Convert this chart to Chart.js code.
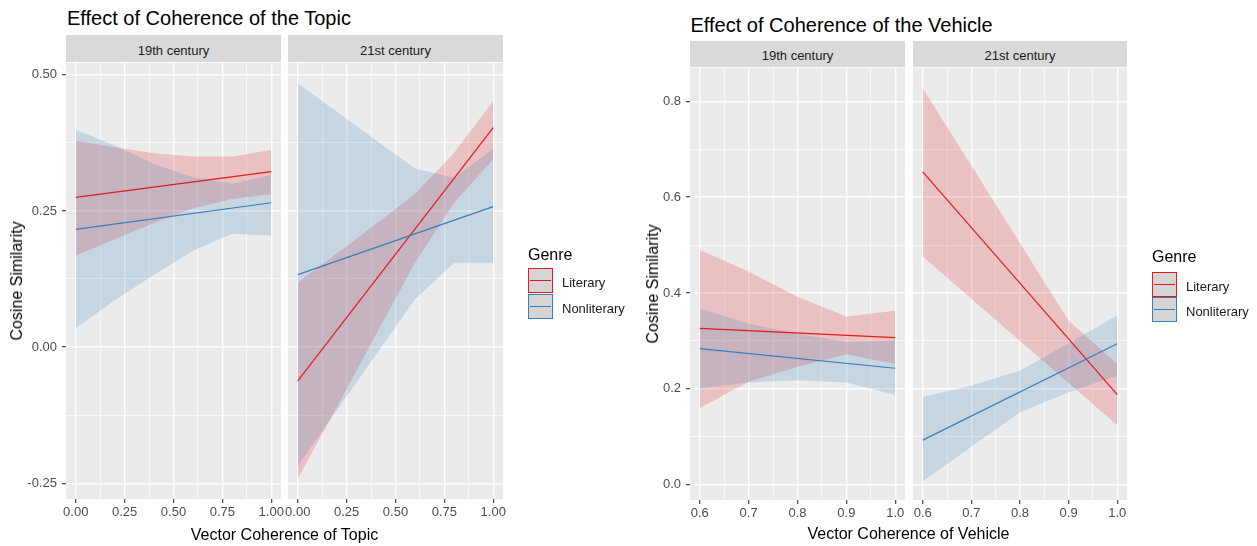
<!DOCTYPE html>
<html>
<head>
<meta charset="utf-8">
<title>Effect of Coherence</title>
<script src="https://cdn.jsdelivr.net/npm/chart.js@4.4.1/dist/chart.umd.min.js"></script>
<style>
  html, body { margin: 0; padding: 0; background: #ffffff; }
  body { position: relative; width: 1257px; height: 546px; overflow: hidden;
         font-family: "Liberation Sans", Arial, Helvetica, sans-serif; }
  .txt { position: absolute; white-space: nowrap; color: #000; }
  .strip { position: absolute; background: #d9d9d9; color: #1a1a1a; font-size: 13px; line-height: 13px;
           display: flex; align-items: center; justify-content: center; box-sizing: border-box; padding-top: 3px; }
  .key { position: absolute; box-sizing: border-box; width: 25px; height: 25px; background: #d5d5d5; border: 1.5px solid; }
  .key span { position: absolute; left: 1px; right: 1px; top: 50%; height: 1.4px; margin-top: -0.7px; }
  canvas { position: absolute; }
</style>
</head>
<body>
<script>
// ---------- data ----------
const genres = ['Literary', 'Nonliterary'];
const centuries = ['19th century', '21st century'];
const genreColors = ['#E41A1C', '#377EB8'];

// Vector coherence of topic: fitted lines at the ends of the range, bands at each level
const topicLevels = [0, 0.2, 0.4, 0.6, 0.8, 1.0];
const topicFitRange = [0, 1];

const topic19LitFit   = [0.275, 0.322];
const topic19LitUpper = [0.379, 0.367, 0.356, 0.350, 0.350, 0.362];
const topic19LitLower = [0.168, 0.198, 0.228, 0.255, 0.272, 0.281];
const topic19NonFit   = [0.216, 0.265];
const topic19NonUpper = [0.399, 0.370, 0.336, 0.312, 0.300, 0.316];
const topic19NonLower = [0.035, 0.086, 0.133, 0.177, 0.208, 0.205];

const topic21LitFit   = [-0.062, 0.403];
const topic21LitUpper = [0.119, 0.172, 0.226, 0.281, 0.357, 0.452];
const topic21LitLower = [-0.242, -0.110, 0.023, 0.155, 0.265, 0.345];
const topic21NonFit   = [0.133, 0.258];
const topic21NonUpper = [0.484, 0.432, 0.380, 0.328, 0.311, 0.364];
const topic21NonLower = [-0.218, -0.116, -0.014, 0.088, 0.155, 0.155];

const topicXTicks  = [0, 0.25, 0.5, 0.75, 1];
const topicXLabels = ['0.00', '0.25', '0.50', '0.75', '1.00'];
const topicXMinor  = [0.125, 0.375, 0.625, 0.875];
const topicYTicks  = [-0.25, 0, 0.25, 0.5];
const topicYLabels = ['-0.25', '0.00', '0.25', '0.50'];
const topicYMinor  = [-0.125, 0.125, 0.375];

// Vector coherence of vehicle
const vehicleLevels = [0.6, 0.7, 0.8, 0.9, 1.0];
const vehicleFitRange = [0.6, 1.0];

const vehicle19LitFit   = [0.326, 0.307];
const vehicle19LitUpper = [0.490, 0.445, 0.392, 0.351, 0.363];
const vehicle19LitLower = [0.160, 0.215, 0.246, 0.272, 0.252];
const vehicle19NonFit   = [0.284, 0.243];
const vehicle19NonUpper = [0.368, 0.336, 0.315, 0.298, 0.301];
const vehicle19NonLower = [0.201, 0.213, 0.218, 0.213, 0.187];

const vehicle21LitFit   = [0.653, 0.188];
const vehicle21LitUpper = [0.827, 0.666, 0.504, 0.342, 0.252];
const vehicle21LitLower = [0.476, 0.388, 0.300, 0.212, 0.124];
const vehicle21NonFit   = [0.093, 0.294];
const vehicle21NonUpper = [0.183, 0.207, 0.238, 0.295, 0.353];
const vehicle21NonLower = [0.007, 0.079, 0.151, 0.193, 0.228];

const vehicleXTicks  = [0.6, 0.7, 0.8, 0.9, 1.0];
const vehicleXLabels = ['0.6', '0.7', '0.8', '0.9', '1.0'];
const vehicleXMinor  = [0.65, 0.75, 0.85, 0.95];
const vehicleYTicks  = [0, 0.2, 0.4, 0.6, 0.8];
const vehicleYLabels = ['0.0', '0.2', '0.4', '0.6', '0.8'];
const vehicleYMinor  = [0.1, 0.3, 0.5, 0.7];

// ---------- drawing ----------
Chart.defaults.font.family = '"Liberation Sans", Arial, sans-serif';
const PAD_L = 60, PAD_R = 26, PAD_T = 12, AX_H = 36;

function rgba(hex, a) {
  const n = parseInt(hex.slice(1), 16);
  return `rgba(${(n >> 16) & 255},${(n >> 8) & 255},${n & 255},${a})`;
}
function pts(xs, ys) { return xs.map((x, i) => ({ x: x, y: ys[i] })); }
function isIn(list, v) { return list.some(m => Math.abs(m - v) < 1e-9); }

function fitLine(xs, ys, color) {
  return { data: pts(xs, ys), borderColor: color, borderWidth: 1.2, pointRadius: 0,
           fill: false, tension: 0 };
}
function bandEdge(xs, ys, fillTo, color) {
  return { data: pts(xs, ys), borderColor: 'rgba(0,0,0,0)', borderWidth: 0, pointRadius: 0, tension: 0,
           fill: fillTo === null ? false : { target: fillTo, above: color, below: color },
           backgroundColor: color };
}

function axisOptions(o) {
  const all = o.major.concat(o.minor).sort((a, b) => a - b);
  return {
    type: 'linear',
    position: o.horizontal ? 'bottom' : 'left',
    min: o.min, max: o.max,
    afterBuildTicks: s => { s.ticks = all.map(v => ({ value: v })); },
    afterFit: s => { if (o.horizontal) s.height = AX_H; else s.width = PAD_L; },
    border: { display: false },
    grid: {
      color: '#ffffff',
      lineWidth: c => (c.tick && isIn(o.major, c.tick.value)) ? 1.4 : 0.7,
      drawTicks: true,
      tickLength: 4,
      tickWidth: 1.1,
      tickColor: c => (o.showTicks && c.tick && isIn(o.major, c.tick.value)) ? '#333333' : 'rgba(0,0,0,0)'
    },
    ticks: {
      autoSkip: false, maxRotation: 0, minRotation: 0,
      padding: o.horizontal ? 2 : 5,
      color: '#4d4d4d',
      font: { size: 13 },
      callback: v => {
        if (!o.showLabels) return '';
        const i = o.major.findIndex(m => Math.abs(m - v) < 1e-9);
        return i >= 0 ? o.labels[i] : '';
      }
    }
  };
}

const panelBackground = {
  id: 'panelBackground',
  beforeDraw(chart) {
    const a = chart.chartArea, ctx = chart.ctx;
    ctx.save();
    ctx.fillStyle = '#ebebeb';
    ctx.fillRect(a.left, a.top, a.right - a.left, a.bottom - a.top);
    ctx.restore();
  }
};

function panel(p) {
  const w = p.right - p.left, h = p.bottom - p.top;
  const W = w + PAD_L + PAD_R, H = h + PAD_T + AX_H;
  const canvas = document.createElement('canvas');
  canvas.width = W; canvas.height = H;
  canvas.style.left = (p.left - PAD_L) + 'px';
  canvas.style.top = (p.top - PAD_T) + 'px';
  canvas.style.width = W + 'px';
  canvas.style.height = H + 'px';
  document.body.appendChild(canvas);

  const litBand = rgba(genreColors[0], 0.2), nonBand = rgba(genreColors[1], 0.2);
  // earlier datasets are painted last: fitted lines on top, Literary band at the bottom
  const datasets = [
    fitLine(p.fitX, p.non.fit, genreColors[1]),
    fitLine(p.fitX, p.lit.fit, genreColors[0]),
    bandEdge(p.levels, p.non.upper, 3, nonBand),
    bandEdge(p.levels, p.non.lower, null, nonBand),
    bandEdge(p.levels, p.lit.upper, 5, litBand),
    bandEdge(p.levels, p.lit.lower, null, litBand)
  ];

  new Chart(canvas, {
    type: 'line',
    data: { datasets: datasets },
    plugins: [panelBackground],
    options: {
      responsive: false,
      animation: false,
      devicePixelRatio: 1,
      layout: { padding: { left: 0, right: PAD_R, top: PAD_T, bottom: 0 } },
      plugins: { legend: { display: false }, tooltip: { enabled: false } },
      events: [],
      scales: {
        x: axisOptions({ horizontal: true, min: p.xMin, max: p.xMax, major: p.xTicks, labels: p.xLabels,
                         minor: p.xMinor, showLabels: true, showTicks: true }),
        y: axisOptions({ horizontal: false, min: p.yMin, max: p.yMax, major: p.yTicks, labels: p.yLabels,
                         minor: p.yMinor, showLabels: p.first, showTicks: p.first })
      }
    }
  });

  const strip = document.createElement('div');
  strip.className = 'strip';
  strip.style.left = p.left + 'px';
  strip.style.top = p.stripTop + 'px';
  strip.style.width = w + 'px';
  strip.style.height = (p.top - p.stripTop) + 'px';
  strip.textContent = p.century;
  document.body.appendChild(strip);
}

function text(str, o) {
  const d = document.createElement('div');
  d.className = 'txt';
  d.textContent = str;
  d.style.fontSize = o.size + 'px';
  d.style.lineHeight = o.size + 'px';
  d.style.left = o.left + 'px';
  d.style.top = o.top + 'px';
  if (o.color) d.style.color = o.color;
  if (o.transform) d.style.transform = o.transform;
  document.body.appendChild(d);
  return d;
}

function legend(x, titleTop, keyTops) {
  text('Genre', { size: 16, left: x, top: titleTop });
  genres.forEach((g, i) => {
    const k = document.createElement('div');
    k.className = 'key';
    k.style.left = x + 'px';
    k.style.top = keyTops[i] + 'px';
    k.style.borderColor = genreColors[i];
    const s = document.createElement('span');
    s.style.background = genreColors[i];
    k.appendChild(s);
    document.body.appendChild(k);
    text(g, { size: 13, left: x + 34, top: keyTops[i] + 12.5 - 6.5 + 1.5, color: '#1a1a1a' });
  });
}

function figure(f) {
  text(f.title, { size: 20, left: f.titleLeft, top: f.titleTop });
  [0, 1].forEach(i => panel(Object.assign({}, f.common, f.panels[i], { century: centuries[i], first: i === 0 })));
  const pl = f.panels[0].left, pr = f.panels[1].right;
  const cy = (f.common.top + f.common.bottom) / 2;
  text(f.xTitle, { size: 16, left: (pl + pr) / 2, top: f.xTitleTop, transform: 'translateX(-50%)' });
  text('Cosine Similarity', { size: 16, left: f.yTitleX, top: cy, transform: 'translate(-50%,-50%) rotate(-90deg)' });
  legend(f.legendX, f.legendTitleTop, f.keyTops);
}

figure({
  title: 'Effect of Coherence of the Topic', titleLeft: 67, titleTop: 8,
  xTitle: 'Vector Coherence of Topic', xTitleTop: 526.5, yTitleX: 17,
  legendX: 528, legendTitleTop: 246.5, keyTops: [268, 294],
  common: { top: 62, bottom: 499, stripTop: 35, levels: topicLevels, fitX: topicFitRange,
            xMin: -0.05, xMax: 1.05, yMin: -0.279, yMax: 0.522,
            xTicks: topicXTicks, xLabels: topicXLabels, xMinor: topicXMinor,
            yTicks: topicYTicks, yLabels: topicYLabels, yMinor: topicYMinor },
  panels: [
    { left: 66, right: 281,
      lit: { fit: topic19LitFit, upper: topic19LitUpper, lower: topic19LitLower },
      non: { fit: topic19NonFit, upper: topic19NonUpper, lower: topic19NonLower } },
    { left: 288, right: 503,
      lit: { fit: topic21LitFit, upper: topic21LitUpper, lower: topic21LitLower },
      non: { fit: topic21NonFit, upper: topic21NonUpper, lower: topic21NonLower } }
  ]
});

figure({
  title: 'Effect of Coherence of the Vehicle', titleLeft: 690.5, titleTop: 15,
  xTitle: 'Vector Coherence of Vehicle', xTitleTop: 526, yTitleX: 653,
  legendX: 1152, legendTitleTop: 249, keyTops: [272, 297],
  common: { top: 67, bottom: 500, stripTop: 41, levels: vehicleLevels, fitX: vehicleFitRange,
            xMin: 0.58, xMax: 1.02, yMin: -0.032, yMax: 0.870,
            xTicks: vehicleXTicks, xLabels: vehicleXLabels, xMinor: vehicleXMinor,
            yTicks: vehicleYTicks, yLabels: vehicleYLabels, yMinor: vehicleYMinor },
  panels: [
    { left: 690, right: 905,
      lit: { fit: vehicle19LitFit, upper: vehicle19LitUpper, lower: vehicle19LitLower },
      non: { fit: vehicle19NonFit, upper: vehicle19NonUpper, lower: vehicle19NonLower } },
    { left: 913, right: 1127,
      lit: { fit: vehicle21LitFit, upper: vehicle21LitUpper, lower: vehicle21LitLower },
      non: { fit: vehicle21NonFit, upper: vehicle21NonUpper, lower: vehicle21NonLower } }
  ]
});
</script>
</body>
</html>
